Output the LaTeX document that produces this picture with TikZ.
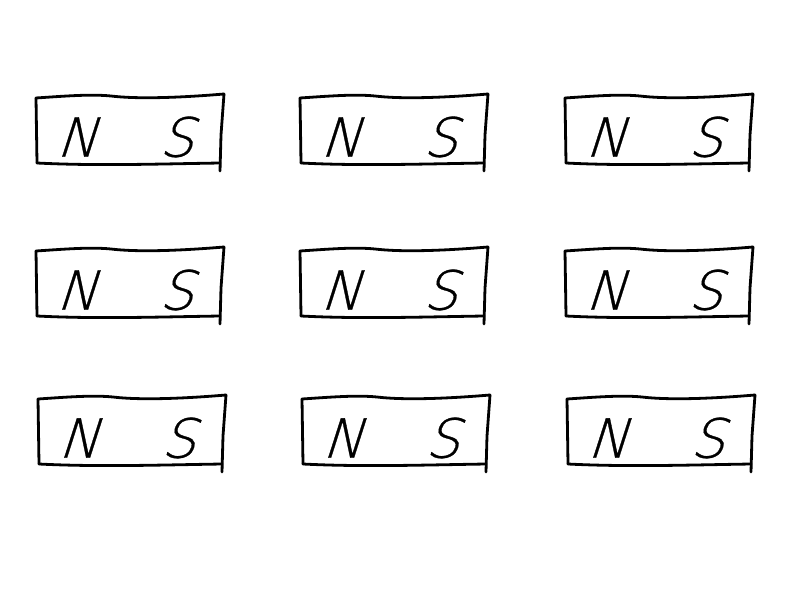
\documentclass[tikz,border=0pt]{standalone}
\usepackage{fontspec}
\newfontfamily\handfont[FakeSlant=0.32,FakeBold=0.6]{DejaVu Sans ExtraLight}
\begin{document}
\begin{tikzpicture}[x=1pt,y=-1pt,
  magline/.style={line width=2.8pt,line cap=round,line join=round,black},
  pole/.style={font=\handfont\fontsize{54}{54}\selectfont,inner sep=0pt,anchor=center}]
\useasboundingbox (0,0) rectangle (800,600);
\foreach \r/\y/\dx in {1/95/0,2/248/0,3/396/2}{
  \foreach \c/\x in {1/36,2/300,3/565}{
    \begin{scope}[shift={(\x+\dx,\y)}]
      \draw[magline] (0,3) .. controls (30,1) and (55,-1) .. (75,1)
        .. controls (100,4) and (140,3) .. (188,-1);
      \draw[magline] (188,-1) -- (185,40) -- (184,76);
      \draw[magline] (0,3) -- (1,68);
      \draw[magline] (1,68) .. controls (60,71) and (120,69) .. (184,68);
      \node[pole] (n\r\c) at (40,42) {N};
      \node[pole] (s\r\c) at (140,42) {S};
    \end{scope}
  }
}
\end{tikzpicture}
\end{document}
